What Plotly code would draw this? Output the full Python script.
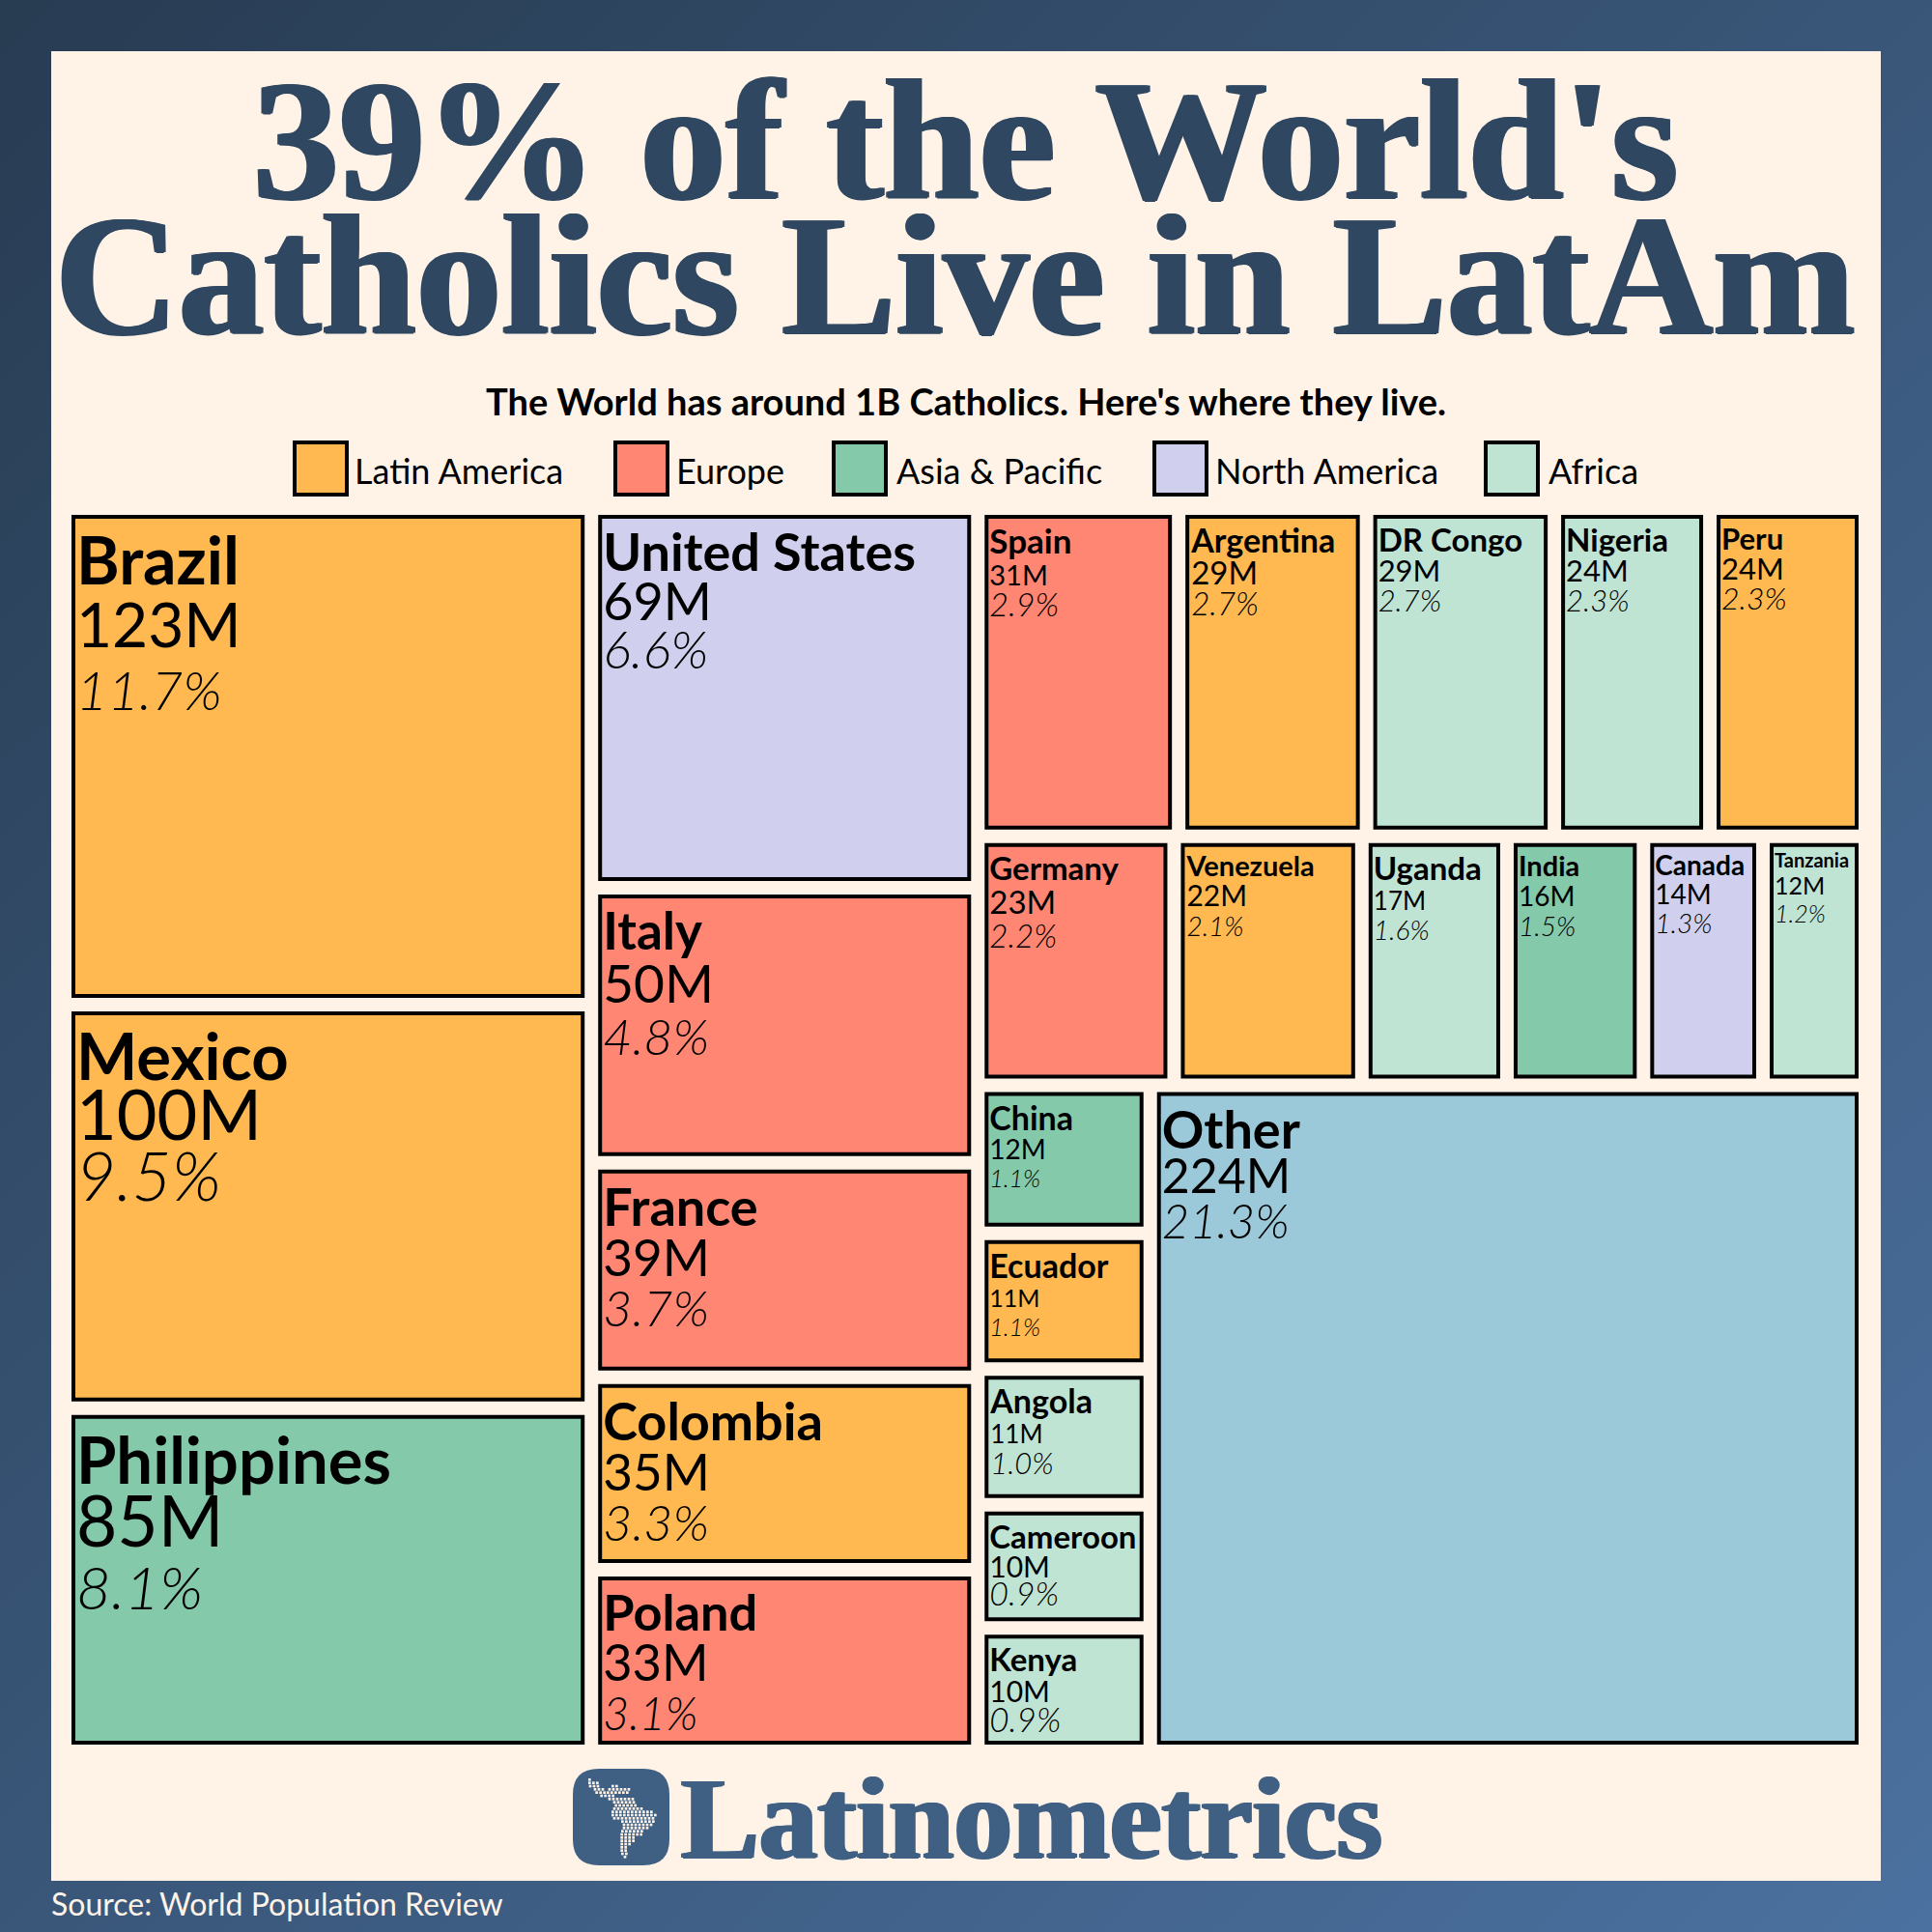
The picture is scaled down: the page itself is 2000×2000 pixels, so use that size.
import base64
import plotly.graph_objects as go

# ---------- data ----------
COL1 = ["Brazil", "Mexico", "Philippines"]
COL1_V = [123, 100, 85]
COL1_P = ["11.7%", "9.5%", "8.1%"]
COL1_R = ["Latin America", "Latin America", "Asia & Pacific"]

COL2 = ["United States", "Italy", "France", "Colombia", "Poland"]
COL2_V = [69, 50, 39, 35, 33]
COL2_P = ["6.6%", "4.8%", "3.7%", "3.3%", "3.1%"]
COL2_R = ["North America", "Europe", "Europe", "Latin America", "Europe"]

ROW1 = ["Spain", "Argentina", "DR Congo", "Nigeria", "Peru"]
ROW1_V = [31, 29, 29, 24, 24]
ROW1_P = ["2.9%", "2.7%", "2.7%", "2.3%", "2.3%"]
ROW1_R = ["Europe", "Latin America", "Africa", "Africa", "Latin America"]

ROW2 = ["Germany", "Venezuela", "Uganda", "India", "Canada", "Tanzania"]
ROW2_V = [23, 22, 17, 16, 14, 12]
ROW2_P = ["2.2%", "2.1%", "1.6%", "1.5%", "1.3%", "1.2%"]
ROW2_R = ["Europe", "Latin America", "Africa", "Asia & Pacific", "North America", "Africa"]

STACK = ["China", "Ecuador", "Angola", "Cameroon", "Kenya"]
STACK_V = [12, 11, 11, 10, 10]
STACK_P = ["1.1%", "1.1%", "1.0%", "0.9%", "0.9%"]
STACK_R = ["Asia & Pacific", "Latin America", "Africa", "Africa", "Africa"]

OTHER_V = 224
OTHER_P = "21.3%"

REGIONS = ["Latin America", "Europe", "Asia & Pacific", "North America", "Africa"]
TITLE_1 = "39% of the World's"
TITLE_2 = "Catholics Live in LatAm"
SUBTITLE = "The World has around 1B Catholics. Here's where they live."
BRAND = "Latinometrics"
SOURCE = "Source: World Population Review"

# ---------- styles ----------
W = H = 2000
CREAM = "#fff3e8"
COLORS = {"Latin America": "#ffb950", "Europe": "#ff8672", "Asia & Pacific": "#84c9a9",
          "North America": "#d0d0ee", "Africa": "#c0e4d4", "Other": "#9bc9d9"}
SANS = "Lato"
SERIF = "Liberation Serif"
NAVY = "#2f4760"
BRAND_BLUE = "#3f5f83"
NONE = "rgba(0,0,0,0)"

# per cell: line base size (line spacing = 1.3 x base), then name / value / percent size ratios
CELL_STYLE = {
    "Brazil": (50, 1.36, 1.28, 1.12), "Mexico": (48, 1.40, 1.50, 1.48), "Philippines": (50, 1.34, 1.46, 1.24),
    "United States": (39, 1.38, 1.38, 1.38), "Italy": (42, 1.27, 1.32, 1.24), "France": (40, 1.36, 1.33, 1.29),
    "Colombia": (40, 1.36, 1.33, 1.29), "Poland": (40, 1.33, 1.33, 1.18),
    "Spain": (25, 1.40, 1.16, 1.34), "Argentina": (25, 1.36, 1.33, 1.32), "DR Congo": (24, 1.36, 1.31, 1.30),
    "Nigeria": (24, 1.36, 1.28, 1.30), "Peru": (24, 1.28, 1.30, 1.35),
    "Germany": (27, 1.23, 1.21, 1.24), "Venezuela": (24, 1.22, 1.23, 1.17), "Uganda": (24, 1.36, 1.10, 1.17),
    "India": (24, 1.22, 1.15, 1.17), "Canada": (23, 1.20, 1.20, 1.22), "Tanzania": (22, 0.90, 1.12, 1.13),
    "China": (23, 1.50, 1.20, 1.08), "Ecuador": (23, 1.47, 1.10, 1.08), "Angola": (24, 1.43, 1.07, 1.30),
    "Cameroon": (23, 1.44, 1.30, 1.50), "Kenya": (24, 1.36, 1.24, 1.45), "Other": (36, 1.50, 1.40, 1.36),
}


def frac_x(px):
    return px / W


def frac_y(px):
    return 1 - px / H


ids, labels, parents, values, colors, lws, texts, sizes = [], [], [], [], [], [], [], []


def add_group(id_, parent, value):
    ids.append(id_); labels.append(id_); parents.append(parent); values.append(value)
    colors.append(NONE); lws.append(0); texts.append(""); sizes.append(10)


def add_leaf(name, parent, value, pct, region):
    b, rn, rv, rp = CELL_STYLE[name]
    txt = (f'<span style="font-size:{round(b * rn)}px"><b>{name}</b></span><br>'
           f'<span style="font-size:{round(b * rv)}px">{value}M</span><br>'
           f'<span style="font-size:{round(b * rp)}px;font-weight:300"><i>{pct}</i></span>')
    ids.append(name); labels.append(name); parents.append(parent); values.append(value)
    colors.append(COLORS[region]); lws.append(4); texts.append(txt); sizes.append(b)


add_group("root", "", sum(COL1_V) + sum(COL2_V) + sum(ROW1_V) + sum(ROW2_V) + sum(STACK_V) + OTHER_V)
add_group("col1", "root", sum(COL1_V))
for n, v, p, r in zip(COL1, COL1_V, COL1_P, COL1_R):
    add_leaf(n, "col1", v, p, r)
add_group("col2", "root", sum(COL2_V))
for n, v, p, r in zip(COL2, COL2_V, COL2_P, COL2_R):
    add_leaf(n, "col2", v, p, r)
add_group("col3", "root", sum(ROW1_V) + sum(ROW2_V) + sum(STACK_V) + OTHER_V)
add_group("row1", "col3", sum(ROW1_V))
for n, v, p, r in zip(ROW1, ROW1_V, ROW1_P, ROW1_R):
    add_leaf(n, "row1", v, p, r)
add_group("row2", "col3", sum(ROW2_V))
for n, v, p, r in zip(ROW2, ROW2_V, ROW2_P, ROW2_R):
    add_leaf(n, "row2", v, p, r)
add_group("row3", "col3", sum(STACK_V) + OTHER_V)
add_group("stack", "row3", sum(STACK_V))
for n, v, p, r in zip(STACK, STACK_V, STACK_P, STACK_R):
    add_leaf(n, "stack", v, p, r)
add_leaf("Other", "row3", OTHER_V, OTHER_P, "Other")

fig = go.Figure(go.Treemap(
    ids=ids, labels=labels, parents=parents, values=values, branchvalues="total",
    sort=False,
    text=texts, textinfo="text", textposition="top left",
    textfont=dict(family=SANS, color="black", size=sizes),
    marker=dict(colors=colors, line=dict(color="black", width=lws), pad=dict(t=0, l=0, r=0, b=0)),
    tiling=dict(packing="slice-dice", pad=18),
    pathbar=dict(visible=False),
    hoverinfo="skip",
    domain=dict(x=[frac_x(76), frac_x(1922)], y=[frac_y(1804), frac_y(535)]),
))

# ---------- decoration ----------
grad = ('<svg xmlns="http://www.w3.org/2000/svg" width="2000" height="2000"><defs>'
        '<linearGradient id="g" x1="0" y1="0" x2="1" y2="1"><stop offset="0" stop-color="#283c52"/>'
        '<stop offset="1" stop-color="#4b71a0"/></linearGradient></defs>'
        '<rect width="2000" height="2000" fill="url(#g)"/></svg>')
MAP_ROWS = [(92, 118, 122), (102, 118, 150), (112, 120, 150), (112, 190, 205), (122, 135, 160), (122, 180, 240),
            (132, 140, 170), (132, 175, 240), (142, 155, 195), (152, 180, 255), (162, 195, 260), (172, 200, 270),
            (182, 195, 290), (192, 190, 310), (202, 190, 325), (212, 195, 325), (222, 220, 320), (232, 225, 310),
            (242, 225, 300), (252, 220, 290), (262, 218, 280), (272, 218, 265), (282, 218, 260), (292, 218, 245),
            (302, 218, 235), (312, 218, 233), (322, 220, 232), (332, 228, 232)]
dots = ""
for y, a, b in MAP_ROWS:
    x = a
    while x <= b:
        dots += f'<rect x="{x - 70}" y="{y - 62}" width="8" height="8" fill="#fff3e8"/>'
        x += 12
map_svg = f'<svg xmlns="http://www.w3.org/2000/svg" width="300" height="300" viewBox="0 0 300 300">{dots}</svg>'


def uri(svg):
    return "data:image/svg+xml;base64," + base64.b64encode(svg.encode()).decode()


def img(svg, x0, y0, w, h, layer):
    return dict(source=uri(svg), xref="paper", yref="paper", x=frac_x(x0), y=frac_y(y0),
                sizex=w / W, sizey=h / H, xanchor="left", yanchor="top", sizing="stretch", layer=layer)


images = [img(grad, 0, 0, 2000, 2000, "below"), img(map_svg, 593, 1831, 100, 100, "above")]

shapes = [dict(type="rect", xref="paper", yref="paper", x0=frac_x(53), x1=frac_x(1947), y0=frac_y(1947), y1=frac_y(53),
               fillcolor=CREAM, line_width=0, layer="below")]
# rounded logo square
x0, x1, y0, y1, r = 593, 693, 1831, 1931, 27
path = (f"M {frac_x(x0 + r)} {frac_y(y0)} L {frac_x(x1 - r)} {frac_y(y0)} Q {frac_x(x1)} {frac_y(y0)} {frac_x(x1)} {frac_y(y0 + r)} "
        f"L {frac_x(x1)} {frac_y(y1 - r)} Q {frac_x(x1)} {frac_y(y1)} {frac_x(x1 - r)} {frac_y(y1)} "
        f"L {frac_x(x0 + r)} {frac_y(y1)} Q {frac_x(x0)} {frac_y(y1)} {frac_x(x0)} {frac_y(y1 - r)} "
        f"L {frac_x(x0)} {frac_y(y0 + r)} Q {frac_x(x0)} {frac_y(y0)} {frac_x(x0 + r)} {frac_y(y0)} Z")
shapes.append(dict(type="path", xref="paper", yref="paper", path=path, fillcolor=BRAND_BLUE, line_width=0, layer="below"))


def ann(text, x, y, size, color, family=SANS, xanchor="center", yanchor="middle", shadow=None):
    font = dict(family=family, size=size, color=color)
    if shadow:
        font["shadow"] = shadow
    return dict(text=text, x=frac_x(x), y=frac_y(y), xref="paper", yref="paper", showarrow=False,
                xanchor=xanchor, yanchor=yanchor, font=font, borderpad=0, borderwidth=0)


THICK = "2px 0 0 {c}, -2px 0 0 {c}, 0 1px 0 {c}"
annotations = [
    ann(f"<b>{TITLE_1}</b>", 999, 145, 178, NAVY, SERIF, shadow=THICK.format(c=NAVY)),
    ann(f"<b>{TITLE_2}</b>", 988, 285, 177, NAVY, SERIF, shadow=THICK.format(c=NAVY)),
    ann(f"<b>{SUBTITLE}</b>", 1000, 415, 38, "black"),
    ann(f"<b>{BRAND}</b>", 705, 1882, 121, BRAND_BLUE, SERIF, xanchor="left", shadow=THICK.format(c=BRAND_BLUE)),
    ann(SOURCE, 53, 1970, 32, CREAM, xanchor="left"),
]

SWATCH_X = [303, 635, 861, 1193, 1536]
LEG_TEXT_X = [367, 700, 928, 1258, 1603]
for reg, sx, tx in zip(REGIONS, SWATCH_X, LEG_TEXT_X):
    shapes.append(dict(type="rect", xref="paper", yref="paper", x0=frac_x(sx + 2), x1=frac_x(sx + 56),
                       y0=frac_y(512), y1=frac_y(458), fillcolor=COLORS[reg], line=dict(color="black", width=4), layer="above"))
    annotations.append(ann(reg, tx, 487, 36, "black", xanchor="left"))

fig.update_layout(width=W, height=H, margin=dict(l=0, r=0, t=0, b=0), paper_bgcolor="#2f4760",
                  images=images, shapes=shapes, annotations=annotations, showlegend=False,
                  font=dict(family=SANS))

fig.write_html("out.html", config={"displayModeBar": False}, post_script="document.body.style.margin='0';")
